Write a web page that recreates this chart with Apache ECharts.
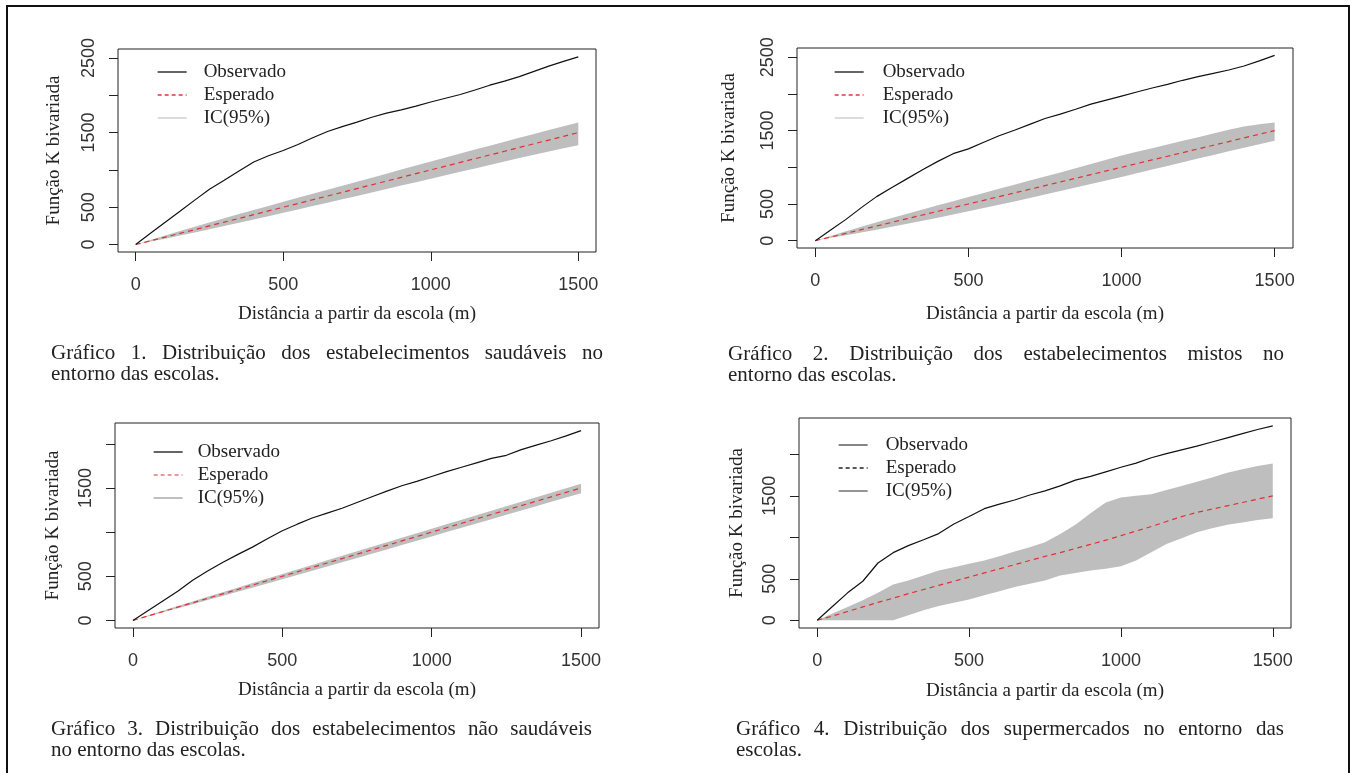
<!DOCTYPE html>
<html>
<head>
<meta charset="utf-8">
<title>Função K bivariada</title>
<script src="https://cdn.jsdelivr.net/npm/echarts@6/dist/echarts.min.js"></script>
<style>
html, body { margin: 0; padding: 0; background: #fff; }
#chart { width: 1357px; height: 773px; }
</style>
</head>
<body>
<div id="chart"></div>
<script>
// distância a partir da escola (m)
var distancia = [0, 50, 100, 150, 200, 250, 300, 350, 400, 450, 500, 550, 600, 650, 700, 750,
  800, 850, 900, 950, 1000, 1050, 1100, 1150, 1200, 1250, 1300, 1350, 1400, 1450, 1500];

// ticks e rótulos dos eixos
var xTicks = [0, 500, 1000, 1500];
var yTicks12 = [0, 500, 1000, 1500, 2000, 2500];
var yLabels12 = [0, 500, 1500, 2500];
var yTicks34 = [0, 500, 1000, 1500, 2000];
var yLabels34 = [0, 500, 1500];

// Gráfico 1 - saudáveis
var obs1 = [0, 150, 300, 445, 595, 740, 860, 985, 1105, 1190, 1260, 1340, 1430, 1515, 1580, 1640,
  1705, 1760, 1805, 1855, 1910, 1960, 2010, 2070, 2135, 2190, 2250, 2320, 2390, 2455, 2515];
var esp1 = [0, 50, 100, 150, 200, 250, 300, 350, 400, 450, 500, 550, 600, 650, 700, 750,
  800, 850, 900, 950, 1000, 1050, 1100, 1150, 1200, 1250, 1300, 1350, 1400, 1450, 1500];
var sup1 = [0, 62, 122, 180, 238, 295, 352, 408, 463, 518, 572, 626, 680, 734, 788, 842,
  896, 950, 1004, 1058, 1112, 1166, 1219, 1272, 1325, 1378, 1430, 1482, 1534, 1586, 1636];
var inf1 = [0, 40, 78, 120, 162, 205, 248, 292, 335, 380, 425, 470, 515, 560, 606, 652,
  698, 744, 790, 836, 882, 928, 974, 1020, 1066, 1112, 1158, 1202, 1246, 1290, 1330];

// Gráfico 2 - mistos
var obs2 = [0, 145, 290, 450, 600, 725, 845, 965, 1080, 1185, 1250, 1340, 1430, 1505, 1585, 1665,
  1725, 1790, 1860, 1915, 1970, 2025, 2080, 2130, 2185, 2235, 2280, 2325, 2380, 2450, 2525];
var esp2 = [0, 50, 100, 150, 200, 250, 300, 350, 400, 450, 500, 550, 600, 650, 700, 750,
  800, 850, 900, 950, 1000, 1050, 1100, 1150, 1200, 1250, 1300, 1350, 1400, 1450, 1500];
var sup2 = [0, 65, 128, 190, 250, 310, 368, 425, 482, 538, 594, 650, 706, 762, 818, 874,
  930, 988, 1046, 1104, 1160, 1210, 1260, 1310, 1360, 1410, 1460, 1510, 1555, 1585, 1610];
var inf2 = [0, 38, 75, 112, 150, 190, 230, 270, 312, 355, 400, 445, 490, 535, 580, 628,
  676, 724, 772, 820, 868, 918, 968, 1018, 1068, 1118, 1168, 1218, 1265, 1312, 1360];

// Gráfico 3 - não saudáveis
var obs3 = [0, 110, 220, 330, 455, 560, 655, 745, 830, 925, 1015, 1090, 1160, 1215, 1270, 1335,
  1400, 1465, 1525, 1575, 1630, 1685, 1735, 1785, 1835, 1870, 1935, 1985, 2035, 2090, 2150];
var esp3 = [0, 50, 100, 150, 200, 250, 300, 350, 400, 450, 500, 550, 600, 650, 700, 750,
  800, 850, 900, 950, 1000, 1050, 1100, 1150, 1200, 1250, 1300, 1350, 1400, 1450, 1500];
var sup3 = [0, 55, 109, 162, 215, 267, 319, 371, 423, 475, 527, 578, 629, 680, 731, 782,
  833, 884, 935, 986, 1037, 1088, 1139, 1190, 1241, 1292, 1343, 1394, 1445, 1496, 1547];
var inf3 = [0, 45, 91, 137, 183, 230, 277, 324, 371, 419, 467, 515, 563, 611, 659, 707,
  755, 804, 853, 902, 951, 1000, 1049, 1098, 1147, 1196, 1245, 1294, 1343, 1392, 1440];

// Gráfico 4 - supermercados
var obs4 = [0, 165, 330, 470, 690, 815, 900, 970, 1045, 1160, 1250, 1345, 1400, 1450, 1510, 1560,
  1620, 1690, 1735, 1790, 1845, 1895, 1960, 2010, 2055, 2100, 2150, 2200, 2250, 2300, 2345];
var esp4 = [0, 50, 105, 160, 215, 265, 320, 370, 420, 470, 520, 570, 620, 670, 720, 770,
  815, 865, 915, 965, 1020, 1075, 1130, 1190, 1250, 1300, 1340, 1380, 1420, 1460, 1500];
var sup4 = [0, 80, 160, 240, 330, 430, 480, 540, 600, 640, 680, 720, 770, 830, 880, 940,
  1040, 1150, 1290, 1420, 1480, 1500, 1520, 1570, 1620, 1670, 1720, 1780, 1820, 1860, 1890];
var inf4 = [0, 0, 0, 0, 0, 0, 60, 120, 170, 210, 250, 300, 350, 400, 440, 480,
  540, 570, 600, 620, 650, 720, 820, 920, 990, 1060, 1110, 1150, 1180, 1210, 1230];

var legendas = [
  ['Gráfico 1. Distribuição dos estabelecimentos saudáveis no', 'entorno das escolas.'],
  ['Gráfico 2. Distribuição dos estabelecimentos mistos no', 'entorno das escolas.'],
  ['Gráfico 3. Distribuição dos estabelecimentos não saudáveis', 'no entorno das escolas.'],
  ['Gráfico 4. Distribuição dos supermercados no entorno das', 'escolas.']
];

var paineis = [
  { obs: obs1, esp: esp1, sup: sup1, inf: inf1, yTicks: yTicks12, yLabels: yLabels12, ymin: -100, ymax: 2620,
    grid: { left: 118, top: 49, width: 478, height: 203 }, xGap: 53, yGap: 54,
    leg: { left: 157, top: 62, pad: 12, esp: '#d93a3a', ic: '#c8c8c8', obs: '#111' },
    cap: { left: 51, top: 343, width: 552 } },
  { obs: obs2, esp: esp2, sup: sup2, inf: inf2, yTicks: yTicks12, yLabels: yLabels12, ymin: -100, ymax: 2625,
    grid: { left: 797, top: 48, width: 496, height: 200 }, xGap: 57, yGap: 58,
    leg: { left: 834, top: 62, pad: 14, esp: '#d93a3a', ic: '#c8c8c8', obs: '#111' },
    cap: { left: 728, top: 344, width: 556 } },
  { obs: obs3, esp: esp3, sup: sup3, inf: inf3, yTicks: yTicks34, yLabels: yLabels34, ymin: -86, ymax: 2236,
    grid: { left: 115, top: 423, width: 484, height: 205 }, xGap: 53, yGap: 52,
    leg: { left: 153, top: 442, pad: 10, esp: '#e07a7a', ic: '#999', obs: '#111' },
    cap: { left: 51, top: 719, width: 541 } },
  { obs: obs4, esp: esp4, sup: sup4, inf: inf4, yTicks: yTicks34, yLabels: yLabels34, ymin: -94, ymax: 2439,
    grid: { left: 799, top: 418, width: 492, height: 210 }, xGap: 54, yGap: 52,
    leg: { left: 838, top: 435, pad: 13, esp: '#222', ic: '#555', obs: '#444' },
    cap: { left: 736, top: 719, width: 548 } }
];

function pares(xs, ys) {
  return xs.map(function (x, i) { return [x, ys[i]]; });
}

var serif = 'Liberation Serif';
var sans = 'Liberation Sans';
var capSize = 21;

// primeira linha da legenda justificada (como no original)
var ctx = document.createElement('canvas').getContext('2d');
ctx.font = capSize + 'px "' + serif + '"';
function justificar(linha, largura) {
  var palavras = linha.split(' ');
  var soma = 0;
  palavras.forEach(function (w) { soma += ctx.measureText(w).width; });
  var gap = (largura - soma) / (palavras.length - 1);
  return { text: palavras.join('{g| }'), gap: gap };
}

var option = {
  animation: false,
  backgroundColor: '#fff',
  grid: [], xAxis: [], yAxis: [], series: [], legend: [], title: [],
  graphic: [{
    type: 'rect', silent: true, z: 100,
    shape: { x: 7, y: 6, width: 1342, height: 800 },
    style: { fill: 'none', stroke: '#111', lineWidth: 2 }
  }]
};

var semSimbolo = { opacity: 0, color: 'transparent', borderWidth: 0 };

paineis.forEach(function (p, i) {
  option.grid.push({
    left: p.grid.left, top: p.grid.top, width: p.grid.width, height: p.grid.height,
    show: true, borderColor: '#222', borderWidth: 1, backgroundColor: 'transparent',
    containLabel: false, outerBoundsMode: 'none'
  });
  option.xAxis.push({
    gridIndex: i, type: 'value', min: -60, max: 1560,
    axisLine: { show: false, onZero: false },
    splitLine: { show: false },
    axisTick: { show: true, length: 9, lineStyle: { color: '#222' }, customValues: xTicks },
    axisLabel: {
      customValues: xTicks, margin: 24, fontFamily: sans, fontSize: 18, color: '#333',
      formatter: function (v) { return String(v); }
    },
    name: 'Distância a partir da escola (m)', nameLocation: 'middle', nameGap: p.xGap,
    nameTextStyle: { fontFamily: serif, fontSize: 19, color: '#222' }
  });
  option.yAxis.push({
    gridIndex: i, type: 'value', min: p.ymin, max: p.ymax,
    axisLine: { show: false, onZero: false },
    splitLine: { show: false },
    axisTick: { show: true, length: 9, lineStyle: { color: '#222' }, customValues: p.yTicks },
    axisLabel: {
      customValues: p.yLabels, rotate: 90, margin: 20, fontFamily: sans, fontSize: 18, color: '#333',
      formatter: function (v) { return String(v); }
    },
    name: 'Função K bivariada', nameLocation: 'middle', nameGap: p.yGap, nameRotate: 90,
    nameTextStyle: { fontFamily: serif, fontSize: 19, color: '#222' }
  });

  // envelope IC(95%)
  option.series.push({
    type: 'custom', name: 'IC(95%)', xAxisIndex: i, yAxisIndex: i, silent: true, z: 1,
    data: [[0, 0]],
    renderItem: function (params, api) {
      var pts = [];
      for (var k = 0; k < distancia.length; k++) pts.push(api.coord([distancia[k], p.sup[k]]));
      for (var j = distancia.length - 1; j >= 0; j--) pts.push(api.coord([distancia[j], p.inf[j]]));
      return { type: 'polygon', shape: { points: pts }, style: { fill: '#bebebe' } };
    }
  });
  option.series.push({
    type: 'line', name: 'Esperado', xAxisIndex: i, yAxisIndex: i, z: 3,
    showSymbol: false, symbol: 'none', silent: true,
    lineStyle: { color: '#dd3333', width: 1.2, type: [5, 4] },
    data: pares(distancia, p.esp)
  });
  option.series.push({
    type: 'line', name: 'Observado', xAxisIndex: i, yAxisIndex: i, z: 4,
    showSymbol: false, symbol: 'none', silent: true,
    lineStyle: { color: '#111', width: 1.2 },
    data: pares(distancia, p.obs)
  });

  option.legend.push({
    left: p.leg.left, top: p.leg.top, orient: 'vertical',
    itemWidth: 29, itemHeight: 14, itemGap: 3, padding: 0, selectedMode: false,
    textStyle: { fontFamily: serif, fontSize: 19, color: '#222', lineHeight: 20, padding: [0, 0, 0, p.leg.pad] },
    data: [
      { name: 'Observado', itemStyle: semSimbolo, lineStyle: { color: p.leg.obs, width: 1.3, type: 'solid' } },
      { name: 'Esperado', itemStyle: semSimbolo, lineStyle: { color: p.leg.esp, width: 1.3, type: [4, 3] } },
      { name: 'IC(95%)', icon: 'path://M0,0H30V1.3H0Z', itemStyle: { color: p.leg.ic } }
    ]
  });

  var l1 = justificar(legendas[i][0], p.cap.width);
  option.title.push({
    left: p.cap.left, top: p.cap.top, padding: 0,
    text: l1.text + '\n' + legendas[i][1],
    textStyle: {
      fontFamily: serif, fontSize: capSize, fontWeight: 'normal', color: '#222', lineHeight: 21,
      rich: { g: { width: l1.gap, fontFamily: serif, fontSize: capSize, lineHeight: 21 } }
    }
  });
});

var myChart = echarts.init(document.getElementById('chart'));
myChart.setOption(option);
window.addEventListener('resize', function () {
  myChart.resize();
});
</script>
</body>
</html>
